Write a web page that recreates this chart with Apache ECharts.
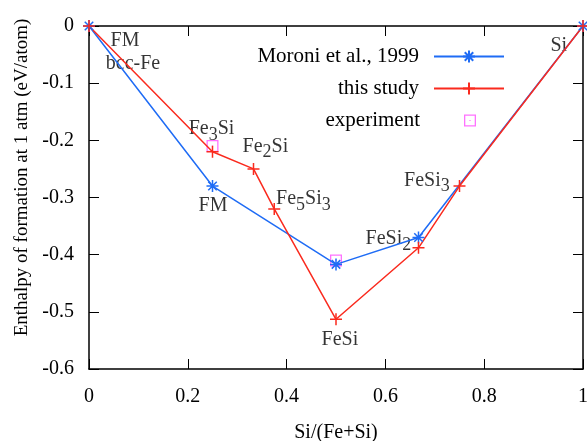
<!DOCTYPE html>
<html>
<head>
<meta charset="utf-8">
<script src="https://cdn.jsdelivr.net/npm/echarts@6/dist/echarts.min.js"></script>
<style>
html,body{margin:0;padding:0;background:#fff;}
#chart{width:587px;height:441px;}
</style>
</head>
<body>
<div id="chart"></div>
<script>
// data
var ratioMoroni = [0, 0.25, 0.5, 0.667, 1];
var enthMoroni = [0, -0.28, -0.417, -0.37, 0];
var ratioStudy = [0, 0.25, 0.333, 0.375, 0.5, 0.667, 0.75, 1];
var enthStudy = [0, -0.22, -0.25, -0.32, -0.513, -0.388, -0.28, 0];
var ratioExp = [0.25, 0.5];
var enthExp = [-0.21, -0.41];
var seriesNames = ['Moroni et al., 1999', 'this study', 'experiment'];

// phase annotations
var noteText = ['{n|FM}', '{n|bcc-Fe}', '{n|Fe}{s|3}{n|Si}', '{n|FM}', '{n|Fe}{s|2}{n|Si}',
  '{n|Fe}{s|5}{n|Si}{s|3}', '{n|FeSi}{s|2}', '{n|FeSi}', '{n|FeSi}{s|3}', '{n|Si}'];
var noteX = [0.073, 0.089, 0.248, 0.251, 0.357, 0.434, 0.606, 0.508, 0.684, 0.951];
var noteY = [-0.028, -0.068, -0.182, -0.316, -0.213, -0.304, -0.374, -0.551, -0.272, -0.036];

var FONT = 'Liberation Serif';
var BLUE = '#1f6cf5';
var RED = '#fa2a1e';
var PINK = '#ff4dff';
var starPath = 'path://M6,0L6,12M0,6L12,6M1.76,1.76L10.24,10.24M1.76,10.24L10.24,1.76';
var plusPath = 'path://M6,0L6,12M0,6L12,6';
var boxPath = 'path://M0,0L12,0L12,12L0,12ZM1.3,1.3L1.3,10.7L10.7,10.7L10.7,1.3ZM5.4,5.4L6.6,5.4L6.6,6.6L5.4,6.6Z';

function pairs(xs, ys){
  var out = [];
  for (var i = 0; i < xs.length; i++) out.push([xs[i], ys[i]]);
  return out;
}
var notes = [];
for (var i = 0; i < noteText.length; i++) notes.push({value: [noteX[i], noteY[i]], name: noteText[i]});

function frameAxis(pos, isX){
  var a = {
    type: 'value', position: pos,
    axisLine: {show: true, onZero: false, lineStyle: {color: '#000', width: 1.5}},
    axisTick: {show: true, inside: true, length: 10, lineStyle: {color: '#000', width: 1}},
    axisLabel: {show: false},
    splitLine: {show: false}
  };
  if (isX) { a.min = 0; a.max = 1; a.interval = 0.2; }
  else { a.min = -0.6; a.max = 0; a.interval = 0.1; }
  return a;
}

var xBottom = frameAxis('bottom', true);
xBottom.axisLabel = {show: true, color: '#000', fontFamily: FONT, fontSize: 20, margin: 18};
xBottom.name = 'Si/(Fe+Si)';
xBottom.nameLocation = 'middle';
xBottom.nameGap = 54;
xBottom.nameTextStyle = {color: '#000', fontFamily: FONT, fontSize: 20};

var yLeft = frameAxis('left', false);
yLeft.axisLabel = {show: true, color: '#000', fontFamily: FONT, fontSize: 20, margin: 15};
yLeft.name = 'Enthalpy of formation at 1 atm (eV/atom)';
yLeft.nameLocation = 'middle';
yLeft.nameGap = 54;
yLeft.nameTextStyle = {color: '#000', fontFamily: FONT, fontSize: 19, padding: [0, 0, 0, 40]};

function oneLegend(item, top, w, h, right, gap){
  return {
    data: [item], right: right, top: top, orient: 'vertical', align: 'right',
    itemWidth: w, itemHeight: h, padding: 0, selectedMode: false,
    textStyle: {color: '#000', fontFamily: FONT, fontSize: 21, padding: [0, gap, 0, 0]}
  };
}

var chart = echarts.init(document.getElementById('chart'));
chart.setOption({
  animation: false,
  backgroundColor: '#fff',
  grid: {left: 89, right: 4, top: 26, bottom: 72, outerBoundsMode: 'none', containLabel: false},
  xAxis: [xBottom, frameAxis('top', true)],
  yAxis: [yLeft, frameAxis('right', false)],
  legend: [
    oneLegend(seriesNames[0], 46, 70, 15, 82, 10),
    oneLegend(seriesNames[1], 78, 70, 15, 82, 10),
    oneLegend({name: seriesNames[2], icon: boxPath, itemStyle: {color: PINK}}, 110, 12, 12, 111, 39)
  ],
  series: [
    {
      name: seriesNames[0], type: 'line', data: pairs(ratioMoroni, enthMoroni),
      symbol: starPath, symbolSize: 12, showAllSymbol: true,
      lineStyle: {color: BLUE, width: 1.5},
      itemStyle: {color: BLUE, borderColor: BLUE, borderWidth: 1.5}
    },
    {
      name: seriesNames[1], type: 'line', data: pairs(ratioStudy, enthStudy),
      symbol: plusPath, symbolSize: 12, showAllSymbol: true,
      lineStyle: {color: RED, width: 1.5},
      itemStyle: {color: RED, borderColor: RED, borderWidth: 1.5}
    },
    {
      name: seriesNames[2], type: 'scatter', data: pairs(ratioExp, enthExp),
      symbol: boxPath, symbolSize: 12,
      itemStyle: {color: PINK}
    },
    {
      name: 'notes', type: 'scatter', data: notes, silent: true,
      symbolSize: 1, itemStyle: {color: 'rgba(0,0,0,0)'},
      label: {
        show: true, position: 'inside', color: '#000',
        formatter: function(p){ return p.name; },
        rich: {
          n: {fontFamily: FONT, fontSize: 20, color: '#000', lineHeight: 22, verticalAlign: 'top'},
          s: {fontFamily: FONT, fontSize: 18, color: '#000', lineHeight: 22, verticalAlign: 'top', padding: [7, 0, 0, 0]}
        }
      }
    }
  ]
});
</script>
</body>
</html>
